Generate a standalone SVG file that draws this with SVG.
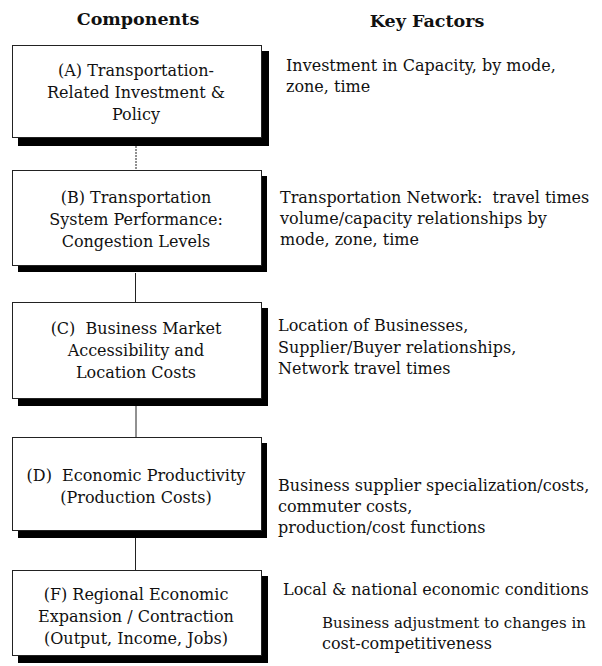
<svg xmlns="http://www.w3.org/2000/svg" width="602" height="666" viewBox="0 0 602 666">
<style>
  text { font-family: "DejaVu Serif", "Liberation Serif", serif; font-size: 16px; fill: #111; white-space: pre; }
  .head { font-weight: bold; font-size: 17.5px; text-anchor: middle; }
  .box text { text-anchor: middle; }
  .shadow { fill: #000; }
  .frame { fill: #fff; stroke: #222; stroke-width: 1; }
  .conn line { stroke: #222; stroke-width: 1; }
</style>
<rect width="602" height="666" fill="#fff"/>
<g id="headings">
  <text class="head" x="138" y="25">Components</text>
  <text class="head" x="427" y="27">Key Factors</text>
</g>
<g id="connectors" class="conn">
  <line x1="136" y1="146" x2="136" y2="170" stroke-dasharray="2 1"/>
  <line x1="135.5" y1="273" x2="135.5" y2="302"/>
  <line x1="136" y1="406" x2="136" y2="437"/>
  <line x1="135.5" y1="538" x2="135.5" y2="570"/>
</g>
<g id="nodeA" class="box">
  <rect class="shadow" x="18" y="51" width="251" height="95"/>
  <rect class="frame" x="12.5" y="45.5" width="249" height="92"/>
  <text x="136" y="76">(A) Transportation-</text>
  <text x="136" y="98">Related Investment &amp;</text>
  <text x="136" y="120">Policy</text>
</g>
<g id="nodeB" class="box">
  <rect class="shadow" x="18" y="176" width="249" height="96"/>
  <rect class="frame" x="12.5" y="170.5" width="249" height="95"/>
  <text x="136" y="203">(B) Transportation</text>
  <text x="136" y="225">System Performance:</text>
  <text x="136" y="247">Congestion Levels</text>
</g>
<g id="nodeC" class="box">
  <rect class="shadow" x="18" y="308" width="250" height="98"/>
  <rect class="frame" x="12.5" y="302.5" width="249" height="96"/>
  <text x="136" y="334" xml:space="preserve">(C)  Business Market</text>
  <text x="136" y="356">Accessibility and</text>
  <text x="136" y="378">Location Costs</text>
</g>
<g id="nodeD" class="box">
  <rect class="shadow" x="18" y="443" width="249" height="95"/>
  <rect class="frame" x="12.5" y="437.5" width="249" height="93"/>
  <text x="136" y="481" xml:space="preserve">(D)  Economic Productivity</text>
  <text x="136" y="503">(Production Costs)</text>
</g>
<g id="nodeF" class="box">
  <rect class="shadow" x="18" y="576" width="250" height="87"/>
  <rect class="frame" x="12.5" y="570.5" width="249" height="85"/>
  <text x="136" y="600">(F) Regional Economic</text>
  <text x="136" y="622">Expansion / Contraction</text>
  <text x="136" y="644">(Output, Income, Jobs)</text>
</g>
<g id="factorsA">
  <text x="286" y="71">Investment in Capacity, by mode,</text>
  <text x="286" y="92">zone, time</text>
</g>
<g id="factorsB">
  <text x="280" y="203" xml:space="preserve">Transportation Network:  travel times</text>
  <text x="280" y="224">volume/capacity relationships by</text>
  <text x="280" y="245">mode, zone, time</text>
</g>
<g id="factorsC">
  <text x="278" y="331">Location of Businesses,</text>
  <text x="278" y="353">Supplier/Buyer relationships,</text>
  <text x="278" y="374">Network travel times</text>
</g>
<g id="factorsD">
  <text x="278" y="491">Business supplier specialization/costs,</text>
  <text x="278" y="512">commuter costs,</text>
  <text x="278" y="533">production/cost functions</text>
</g>
<g id="factorsF">
  <text x="283" y="595">Local &amp; national economic conditions</text>
  <text x="322" y="628" style="font-size:15px">Business adjustment to changes in</text>
  <text x="322" y="649">cost-competitiveness</text>
</g>
</svg>
